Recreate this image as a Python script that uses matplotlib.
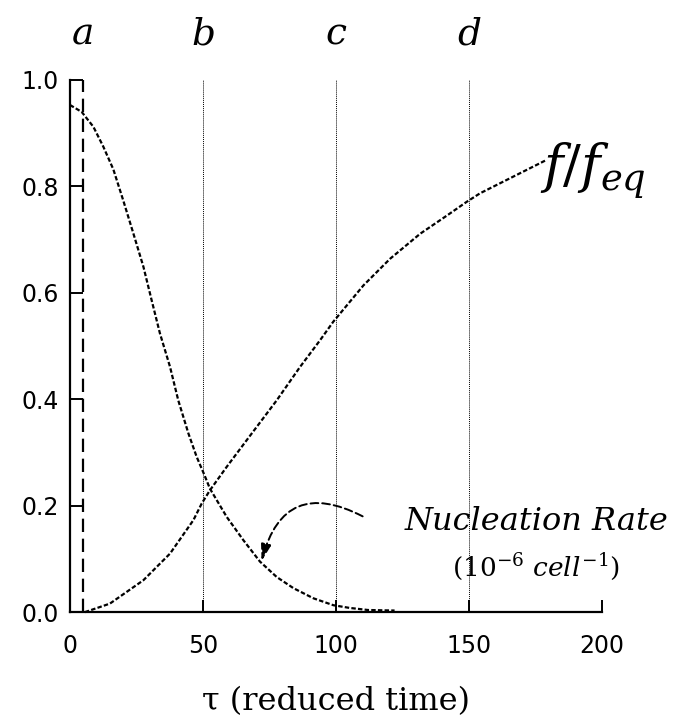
import matplotlib
matplotlib.use("Agg")
import matplotlib.pyplot as plt

# ---- data ----
tau_nuc = [0, 4.4, 8.8, 12.5, 16.3, 20.0, 23.8, 27.6, 30.7, 33.8, 37.6, 40.7,
           44.5, 47.6, 50.5, 52.6, 58.9, 65.2, 71.4, 77.7, 84.0, 91.5, 99.0,
           105, 112, 122]
nuc_rate = [0.953, 0.940, 0.912, 0.875, 0.832, 0.774, 0.712, 0.649, 0.586, 0.524,
            0.461, 0.398, 0.336, 0.292, 0.258, 0.232, 0.179, 0.135, 0.095, 0.066,
            0.045, 0.026, 0.013, 0.008, 0.004, 0.003]

tau_f = [5.6, 15.0, 27.6, 37.6, 46.4, 49.5, 52.6, 58.9, 66.4, 77.7, 86.5, 94.0,
         99.0, 110.3, 120.3, 131.6, 141.6, 149.1, 154.1, 179.2]
f_frac = [0.0, 0.016, 0.060, 0.110, 0.173, 0.204, 0.229, 0.273, 0.323, 0.398,
          0.461, 0.511, 0.546, 0.614, 0.664, 0.711, 0.745, 0.771, 0.787, 0.850]

marker_times = [5, 50, 100, 150]
marker_labels = ["a", "b", "c", "d"]
x_ticks = [0, 50, 100, 150, 200]
y_ticks = [0.0, 0.2, 0.4, 0.6, 0.8, 1.0]

plt.rcParams['mathtext.fontset'] = 'dejavuserif'

fig = plt.figure(figsize=(6.84, 7.27), dpi=100)
ax = fig.add_axes([0.1023, 0.158, 0.778, 0.732])
ax.set_xlim(0, 200)
ax.set_ylim(0, 1.0)

# reference lines
ax.plot([marker_times[0]] * 2, [0, 1.0], color="black", lw=1.6,
        linestyle=(0, (6, 3)))
for t in marker_times[1:]:
    ax.plot([t, t], [0, 1.0], color="black", lw=0.7, linestyle=(0, (1, 1)))

# curves
ax.plot(tau_nuc, nuc_rate, color="black", lw=1.6, linestyle=(0, (2, 1)),
        clip_on=False)
ax.plot(tau_f, f_frac, color="black", lw=1.6, linestyle=(0, (2, 1)),
        clip_on=False)

# top letters
for t, lab in zip(marker_times, marker_labels):
    ax.text(t, 1.085, lab, fontsize=27, style="italic", family="DejaVu Serif",
            ha="center", va="center", clip_on=False)

# f/f_eq label
ax.text(176.5, 0.83, r"$f/f_{eq}$", fontsize=38, ha="left", va="center",
        clip_on=False)

# Nucleation rate label
ax.text(175.5, 0.17, "Nucleation Rate", fontsize=23, style="italic",
        family="DejaVu Serif", ha="center", va="center", clip_on=False)
ax.text(175, 0.085, r"$(10^{-6}\ cell^{-1})$", fontsize=19, ha="center",
        va="center", clip_on=False)
ax.annotate("", xy=(72, 0.096), xytext=(110, 0.18),
            arrowprops=dict(arrowstyle="-|>,head_length=1.0,head_width=0.3",
                            connectionstyle="arc3,rad=0.62", color="black",
                            lw=1.4, linestyle=(0, (4, 2)), shrinkA=0, shrinkB=0))

# axes styling
for s in ["top", "right"]:
    ax.spines[s].set_visible(False)
for s in ["left", "bottom"]:
    ax.spines[s].set_linewidth(1.6)
ax.set_xticks(x_ticks)
ax.set_yticks(y_ticks)
ax.set_yticklabels([f"{v:.1f}" for v in y_ticks])
ax.tick_params(direction="in", length=9, width=1.4, labelsize=17)
ax.tick_params(axis="x", pad=16)
ax.tick_params(axis="y", pad=8)
for lab in ax.get_xticklabels() + ax.get_yticklabels():
    lab.set_family("DejaVu Sans")

ax.set_xlabel("τ (reduced time)", fontsize=23, family="DejaVu Serif",
              labelpad=20)

fig.savefig("out.png", dpi=100)
